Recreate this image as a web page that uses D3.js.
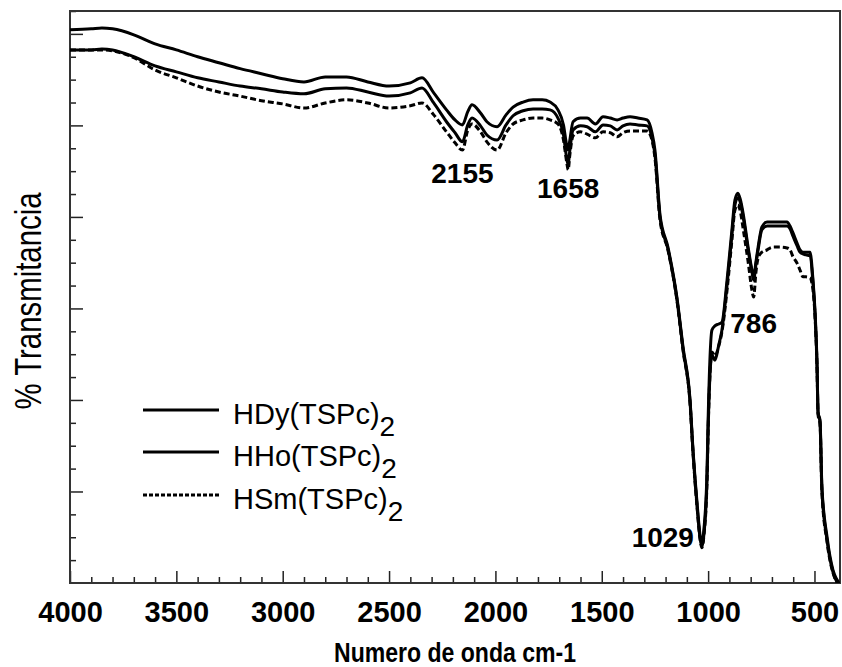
<!DOCTYPE html>
<html>
<head>
<meta charset="utf-8">
<script src="https://cdn.jsdelivr.net/npm/d3@7"></script>
<style>
  html, body { margin: 0; padding: 0; background: #fff; }
  svg { display: block; }
  text { font-family: "Liberation Sans", Arial, Helvetica, sans-serif; fill: #000; }
</style>
</head>
<body>
<svg id="chart" width="842" height="667"></svg>
<script>
// ---- data (wavenumber in cm-1, % transmittance in arbitrary units) ----
const wavenumbers = [4000,3900,3850,3800,3700,3600,3500,3400,3300,3200,3100,3000,2900,2800,2700,2600,2500,2400,2345,2290,2230,2190,2155,2130,2110,2070,2040,1992,1950,1917,1870,1823,1780,1743,1706,1680,1665,1658,1650,1635,1600,1569,1530,1494,1460,1428,1400,1367,1330,1287,1264,1250,1226,1189,1147,1118,1085,1071,1052,1038,1029,1020,1005,1000,982,968,950,935,911,888,874,860,848,836,812,794,786,775,765,747,723,709,690,662,629,615,601,582,568,554,540,521,507,497,488,483,474,465,441,413,394,380];

const hdy = [120.9,121.1,121.3,121.1,119.8,117.8,116.5,115.0,113.7,112.4,111.3,110.2,109.5,110.6,110.6,109.5,108.6,109.3,110.4,107.1,103.4,101.2,100.1,103.0,104.5,102.7,100.8,99.7,102.3,104.0,105.1,105.6,105.6,105.1,103.4,100.1,95.7,94.6,96.8,100.8,101.6,101.6,100.3,101.9,101.6,101.2,101.6,101.9,101.6,101.2,98.4,94.6,80.4,73.4,62.5,51.6,40.0,29.1,17.5,10.5,8.3,11.6,24.7,35.6,55.3,56.2,56.6,57.0,66.2,77.2,83.7,85.2,83.7,80.9,73.4,68.4,66.9,70.2,73.4,77.8,78.9,78.9,78.9,78.9,78.9,78.0,76.5,74.3,72.8,72.3,72.3,72.3,66.2,59.0,48.1,37.2,35.6,21.0,10.1,2.8,0.7,-0.4];

const hho = [116.5,116.5,116.7,116.5,115.0,113.0,111.7,110.4,109.5,108.6,108.0,107.3,106.9,108.0,108.2,107.3,106.4,107.1,108.2,104.9,100.8,98.4,96.4,100.1,101.6,99.9,97.9,96.8,100.1,102.1,103.2,103.6,103.6,103.4,101.6,97.9,92.9,91.4,94.6,99.0,99.9,99.7,98.6,100.1,99.9,99.0,99.9,100.3,100.1,99.9,97.3,93.6,79.8,73.0,62.1,51.1,39.6,28.6,16.8,9.8,7.9,10.5,23.0,33.4,49.8,48.7,52.0,55.3,65.1,76.1,82.6,84.2,83.1,80.2,72.8,68.0,66.2,69.7,72.8,77.2,78.0,78.0,78.0,78.0,78.0,77.4,75.8,73.7,72.3,71.9,71.7,71.5,65.6,58.4,47.4,37.2,35.2,20.3,9.4,2.4,0.2,-0.4];

const hsm = [116.5,116.5,116.5,116.3,114.8,112.1,110.4,108.6,107.3,106.4,105.4,104.7,103.8,104.9,105.6,104.9,103.8,104.3,104.9,102.3,98.6,96.2,94.6,99.0,100.3,98.6,96.4,94.6,98.4,100.3,101.2,101.6,101.6,101.2,100.3,96.8,92.0,90.3,93.6,97.7,98.6,98.1,97.3,98.6,98.4,97.5,98.4,98.8,98.8,98.8,96.8,92.9,79.3,72.8,61.9,50.9,39.3,28.4,16.6,9.6,7.7,10.3,22.5,33.0,50.5,49.6,51.8,54.9,64.0,75.0,81.5,82.6,81.1,77.6,70.2,64.0,62.5,68.0,71.0,72.3,72.8,73.2,73.4,73.4,73.2,72.8,71.3,69.9,68.4,66.9,66.9,66.7,64.0,57.9,47.0,36.7,34.8,19.9,9.0,2.2,0.2,-0.4];

const seriesNames = ["HDy(TSPc)", "HHo(TSPc)", "HSm(TSPc)"];
const seriesValues = [hdy, hho, hsm];
const seriesDash = [null, null, "6,3"];

const xMajorTicks = [4000,3500,3000,2500,2000,1500,1000,500];
const xTickLabels = ["4000","3500","3000","2500","2000","1500","1000","500"];
const yMajorTicks = [20,40,60,80,100,120];

const peakLabels = ["2155","1658","1029","786"];
const peakWn = [2155,1658,1029,786];
const peakVal = [87.4, 84.1, 7.9, 54.6];
const peakAnchor = ["middle","middle","end","middle"];

const xLabel = "Numero de onda cm-1";
const yLabel = "% Transmitancia";

// ---- layout ----
const svg = d3.select("#chart");
const mLeft = 70, mRight = 840, mTop = 11, mBottom = 583;

const x = d3.scaleLinear().domain([4000, 380]).range([mLeft, mRight]);
const y = d3.scaleLinear().domain([0, 125]).range([mBottom, mTop]);

// clip
svg.append("defs").append("clipPath").attr("id", "plotclip")
  .append("rect").attr("x", mLeft).attr("y", mTop).attr("width", mRight - mLeft).attr("height", mBottom - mTop);

// minor x ticks
const xMinor = d3.range(4000, 380, -100).filter(v => !xMajorTicks.includes(v));
const gxMinor = svg.append("g").attr("transform", `translate(0,${mBottom})`)
  .call(d3.axisBottom(x).tickValues(xMinor).tickSize(-6).tickFormat(""));
gxMinor.select(".domain").remove();
gxMinor.selectAll("line").attr("stroke", "#222").attr("stroke-width", 1.5);

// major x ticks + labels
const gx = svg.append("g").attr("transform", `translate(0,${mBottom})`)
  .call(d3.axisBottom(x).tickValues(xMajorTicks).tickSize(-12).tickPadding(18)
    .tickFormat((d, i) => xTickLabels[i]));
gx.select(".domain").remove();
gx.selectAll("line").attr("stroke", "#222").attr("stroke-width", 1.5);
gx.selectAll("text").attr("font-size", 29).attr("font-weight", "bold")
  .attr("font-family", "'Liberation Sans', Arial, sans-serif").attr("fill", "#000");

// y ticks
const yMinor = d3.range(5, 126, 5).filter(v => !yMajorTicks.includes(v));
const gyMinor = svg.append("g").attr("transform", `translate(${mLeft},0)`)
  .call(d3.axisLeft(y).tickValues(yMinor).tickSize(-6).tickFormat(""));
gyMinor.select(".domain").remove();
gyMinor.selectAll("line").attr("stroke", "#222").attr("stroke-width", 1.5);
const gy = svg.append("g").attr("transform", `translate(${mLeft},0)`)
  .call(d3.axisLeft(y).tickValues(yMajorTicks).tickSize(-13).tickFormat(""));
gy.select(".domain").remove();
gy.selectAll("line").attr("stroke", "#222").attr("stroke-width", 1.5);

// frame
svg.append("rect").attr("x", mLeft).attr("y", mTop).attr("width", mRight - mLeft).attr("height", mBottom - mTop)
  .attr("fill", "none").attr("stroke", "#333").attr("stroke-width", 2);

// curves
const line = d3.line()
  .x((d) => x(d[0]))
  .y((d) => y(d[1]))
  .curve(d3.curveMonotoneX);

const gLines = svg.append("g").attr("clip-path", "url(#plotclip)");
seriesValues.forEach((vals, i) => {
  const pts = wavenumbers.map((w, j) => [w, vals[j]]);
  gLines.append("path").datum(pts)
    .attr("d", line)
    .attr("fill", "none")
    .attr("stroke", "#000")
    .attr("stroke-width", 3)
    .attr("stroke-linejoin", "round")
    .attr("stroke-dasharray", seriesDash[i]);
});

// peak labels
peakLabels.forEach((t, i) => {
  svg.append("text")
    .attr("x", x(peakWn[i]) + (peakAnchor[i] === "end" ? -8 : 0))
    .attr("y", y(peakVal[i]))
    .attr("text-anchor", peakAnchor[i])
    .attr("font-size", 28).attr("font-weight", "bold")
    .text(t);
});

// axis titles
svg.append("text")
  .attr("x", (mLeft + mRight) / 2).attr("y", 662)
  .attr("text-anchor", "middle")
  .attr("font-size", 27).attr("font-weight", "bold")
  .attr("textLength", 242).attr("lengthAdjust", "spacingAndGlyphs")
  .text(xLabel);

svg.append("text")
  .attr("transform", `translate(41,${(mTop + mBottom) / 2 + 4}) rotate(-90)`)
  .attr("text-anchor", "middle")
  .attr("font-size", 36)
  .attr("textLength", 217).attr("lengthAdjust", "spacingAndGlyphs")
  .text(yLabel);

// legend
const legY = [410, 452, 495];
seriesNames.forEach((name, i) => {
  svg.append("line")
    .attr("x1", 143).attr("x2", 219).attr("y1", legY[i]).attr("y2", legY[i])
    .attr("stroke", "#000").attr("stroke-width", 3)
    .attr("stroke-dasharray", seriesDash[i] ? "4,2" : null);
  const t = svg.append("text")
    .attr("x", 233).attr("y", legY[i] + 14)
    .attr("font-size", 29);
  t.append("tspan").text(name);
  t.append("tspan").attr("dy", 12).attr("font-size", 28).text("2");
});
</script>
</body>
</html>
